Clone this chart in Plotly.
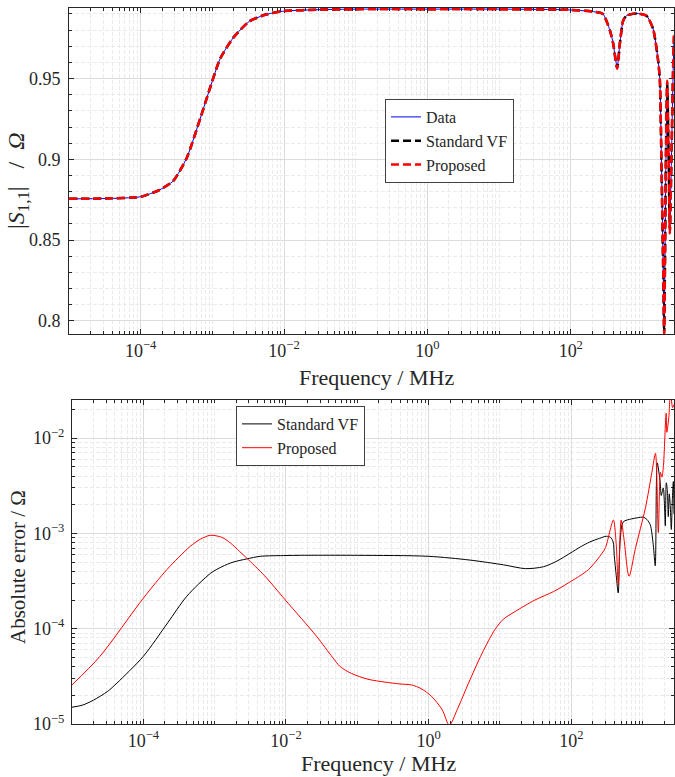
import plotly.graph_objects as go

# ---------------- data ----------------
# Top panel: |S11| versus frequency (MHz)
freq_s11 = [1e-5, 3.2e-5, 1e-4, 1.86e-4, 2.85e-4, 4.4e-4, 6.8e-4, 9.3e-4, 1.29e-3,
            1.95e-3, 3.3e-3, 5.75e-3, 1e-2, 3.2e-2, 0.1, 1, 10, 100, 219, 281, 351,
            390, 444, 484, 538, 600, 828, 1140, 1409, 1656, 1750, 1845, 1945, 2009,
            2118, 2213, 2312, 2410, 2547, 2679, 2754]
s11_data = [0.8755, 0.8757, 0.8768, 0.8812, 0.8866, 0.9010, 0.9255, 0.9443, 0.9625,
            0.9752, 0.9855, 0.9898, 0.9918, 0.9927, 0.9930, 0.9930, 0.9930, 0.9925,
            0.9913, 0.9900, 0.9800, 0.9720, 0.9570, 0.9717, 0.9858, 0.9890, 0.9903,
            0.9889, 0.9807, 0.9610, 0.9487, 0.8950, 0.8330, 0.7925, 0.8950, 0.9460,
            0.9060, 0.8580, 0.9040, 0.9550, 0.9730]
s11_std = [0.8755, 0.8757, 0.8768, 0.8812, 0.8866, 0.9010, 0.9255, 0.9443, 0.9625,
           0.9752, 0.9855, 0.9898, 0.9918, 0.9927, 0.9930, 0.9930, 0.9930, 0.9925,
           0.9913, 0.9900, 0.9800, 0.9718, 0.9565, 0.9717, 0.9858, 0.9890, 0.9903,
           0.9889, 0.9807, 0.9610, 0.9487, 0.8950, 0.8330, 0.7920, 0.8950, 0.9475,
           0.9055, 0.8560, 0.9045, 0.9565, 0.9760]
s11_prop = [0.8755, 0.8757, 0.8768, 0.8812, 0.8866, 0.9010, 0.9255, 0.9443, 0.9625,
            0.9752, 0.9855, 0.9898, 0.9918, 0.9927, 0.9930, 0.9930, 0.9930, 0.9925,
            0.9913, 0.9900, 0.9797, 0.9717, 0.9561, 0.9717, 0.9858, 0.9890, 0.9904,
            0.9889, 0.9807, 0.9610, 0.9487, 0.8950, 0.8330, 0.7920, 0.8950, 0.9487,
            0.9050, 0.8540, 0.9050, 0.9577, 0.9780]

# Bottom panel: absolute error versus frequency (MHz)
freq_err_std = [1e-5, 1.41e-5, 2.0e-5, 3.16e-5, 4.27e-5, 1e-4, 2.19e-4, 4.07e-4, 8.7e-4,
                1.26e-3, 1.82e-3, 2.82e-3, 4.37e-3, 1e-2, 1.58e-2, 0.1, 1, 3.8, 11.2,
                22.9, 40.7, 63.1, 95.5, 135, 182, 251, 309, 355, 387, 400, 427, 455, 485,
                535, 700, 850, 1023, 1150, 1280, 1410, 1503, 1603, 1766, 1824, 1947, 2013,
                2080, 2148, 2218, 2291, 2365, 2445, 2525, 2608, 2694, 2754]
err_std = [1.50e-5, 1.58e-5, 1.78e-5, 2.2e-5, 2.69e-5, 5.13e-5, 1.15e-4, 2.19e-4, 3.80e-4,
           4.47e-4, 5.0e-4, 5.4e-4, 5.75e-4, 5.86e-4, 5.89e-4, 5.89e-4, 5.75e-4, 5.25e-4,
           4.68e-4, 4.27e-4, 4.47e-4, 5.13e-4, 6.17e-4, 7.24e-4, 8.13e-4, 8.9e-4, 9.33e-4,
           9.1e-4, 8.1e-4, 5.9e-4, 3.6e-4, 2.37e-4, 8.5e-4, 1.32e-3, 1.42e-3, 1.46e-3,
           1.48e-3, 1.40e-3, 1.23e-3, 7.6e-4, 4.57e-4, 5.5e-3, 3.4e-3, 2.5e-3, 3.0e-3,
           2.2e-3, 1.2e-3, 3.4e-3, 2.9e-3, 1.5e-3, 2.6e-3, 1.9e-3, 1.1e-3, 2.2e-3, 3.5e-3,
           1.6e-3]

freq_err_prop = [1e-5, 2.45e-5, 1e-4, 2.14e-4, 4.47e-4, 6.31e-4, 8.7e-4, 1.26e-3, 1.66e-3,
                 2.24e-3, 2.82e-3, 5.0e-3, 9.8e-3, 2.69e-2, 4.5e-2, 5.75e-2, 8.3e-2, 0.141,
                 0.245, 0.398, 0.575, 0.794, 1.10, 1.55, 1.95, 2.51, 3.63, 5.6, 8.5, 11.2,
                 16.2, 30.9, 56.2, 91, 174, 269, 302, 389, 427, 455, 500, 550, 645, 794,
                 1096, 1349, 1514, 1660, 1778, 1862, 1950, 2138, 2188, 2344, 2455, 2630,
                 2754]
err_prop = [2.57e-5, 5.1e-5, 2.09e-4, 4.17e-4, 7.24e-4, 8.7e-4, 9.55e-4, 9.1e-4, 7.94e-4,
            6.46e-4, 5.5e-4, 3.6e-4, 2.0e-4, 8.3e-5, 5.0e-5, 4.0e-5, 3.39e-5, 2.95e-5,
            2.75e-5, 2.63e-5, 2.57e-5, 2.34e-5, 1.95e-5, 1.41e-5, 0.97e-5, 1.41e-5,
            2.69e-5, 5.5e-5, 9.8e-5, 1.26e-4, 1.51e-4, 2.0e-4, 2.45e-4, 3.02e-4, 4.17e-4,
            6.17e-4, 7.1e-4, 1.38e-3, 7.6e-4, 2.9e-4, 1.38e-3, 8.5e-4, 3.55e-4, 7.0e-4,
            1.86e-3, 4.37e-3, 6.9e-3, 1.02e-3, 4.37e-3, 3.9e-3, 4.9e-3, 1.82e-2, 1.15e-2,
            1.74e-2, 3.2e-2, 2.09e-2, 2.24e-2]

x_tick_vals = [1e-4, 1e-2, 1, 1e2]
x_tick_text = ["10<sup>−4</sup>", "10<sup>−2</sup>", "10<sup>0</sup>", "10<sup>2</sup>"]
y1_tick_vals = [0.8, 0.85, 0.9, 0.95]
y1_tick_text = ["0.8", "0.85", "0.9", "0.95"]
y2_tick_vals = [1e-5, 1e-4, 1e-3, 1e-2]
y2_tick_text = ["10<sup>−5</sup>", "10<sup>−4</sup>", "10<sup>−3</sup>", "10<sup>−2</sup>"]

# minor tick positions (axis furniture)
x_minor = [k * 10.0 ** n for n in range(-5, 4) for k in range(1, 10)
           if not (k == 1 and n in (-4, -2, 0, 2))]
y2_minor = [k * 10.0 ** n for n in range(-5, -1) for k in range(2, 10)]
y1_minor = [round(0.79 + 0.01 * i, 2) for i in range(21)]

FONT = "Liberation Serif, Times New Roman, DejaVu Serif, serif"
TXT = "#262626"
GRID = "#dcdcdc"
MGRID = "#ebebeb"

fig = go.Figure()

fig.add_trace(go.Scatter(x=freq_s11, y=s11_data, name="Data", mode="lines",
                         line=dict(color="#0000ff", width=1, shape="spline", smoothing=0.6),
                         xaxis="x", yaxis="y", legend="legend"))
fig.add_trace(go.Scatter(x=freq_s11, y=s11_std, name="Standard VF", mode="lines",
                         line=dict(color="#000000", width=2.5, dash="8px,4px",
                                   shape="spline", smoothing=0.6),
                         xaxis="x", yaxis="y", legend="legend"))
fig.add_trace(go.Scatter(x=freq_s11, y=s11_prop, name="Proposed", mode="lines",
                         line=dict(color="#ff0000", width=2.5, dash="8px,4px",
                                   shape="spline", smoothing=0.6),
                         xaxis="x", yaxis="y", legend="legend"))

fig.add_trace(go.Scatter(x=freq_err_std, y=err_std, name="Standard VF", mode="lines",
                         line=dict(color="#000000", width=1, shape="spline", smoothing=0.8),
                         xaxis="x2", yaxis="y2", legend="legend2"))
fig.add_trace(go.Scatter(x=freq_err_prop, y=err_prop, name="Proposed", mode="lines",
                         line=dict(color="#ff0000", width=1, shape="spline", smoothing=0.8),
                         xaxis="x2", yaxis="y2", legend="legend2"))

W, H = 675, 777


def xd(a, b):
    return [a / W, b / W]


def yd(top, bottom):
    return [1 - bottom / H, 1 - top / H]


common_axis = dict(showline=True, linecolor=TXT, linewidth=1, mirror="allticks",
                   ticks="inside", ticklen=5, tickcolor=TXT, showgrid=True,
                   gridcolor=GRID, gridwidth=1, zeroline=False, layer="below traces",
                   tickfont=dict(family=FONT, size=18, color=TXT), automargin=False)

minor_common = dict(ticks="inside", ticklen=3, tickcolor=TXT, showgrid=True,
                    gridcolor=MGRID, griddash="4px,2px", gridwidth=1)

fig.update_layout(
    width=W, height=H,
    margin=dict(l=0, r=0, t=0, b=0),
    paper_bgcolor="white", plot_bgcolor="white",
    font=dict(family=FONT, color=TXT),
    xaxis=dict(type="log", domain=xd(69, 674), range=[-5, 3.44], anchor="y",
               tickmode="array", tickvals=x_tick_vals, ticktext=x_tick_text,
               minor=dict(tickmode="array", tickvals=x_minor, **minor_common),
               **common_axis),
    yaxis=dict(domain=yd(8, 334), range=[0.7918, 0.9937], anchor="x",
               tickmode="array", tickvals=y1_tick_vals, ticktext=y1_tick_text,
               minor=dict(tickmode="array", tickvals=y1_minor, **minor_common),
               ticklabelstandoff=4, **common_axis),
    xaxis2=dict(type="log", domain=xd(72, 674), range=[-5, 3.44], anchor="y2",
                tickmode="array", tickvals=x_tick_vals, ticktext=x_tick_text,
                minor=dict(tickmode="array", tickvals=x_minor, **minor_common),
                **common_axis),
    yaxis2=dict(type="log", domain=yd(400, 724), range=[-5, -1.6], anchor="x2",
                tickmode="array", tickvals=y2_tick_vals, ticktext=y2_tick_text,
                minor=dict(tickmode="array", tickvals=y2_minor, **minor_common),
                ticklabelstandoff=3, **common_axis),
    legend=dict(x=385 / W, y=1 - 99 / H, xanchor="left", yanchor="top",
                bgcolor="white", bordercolor="#404040", borderwidth=1,
                font=dict(family=FONT, size=16, color=TXT), tracegroupgap=0,
                itemwidth=30),
    legend2=dict(x=236 / W, y=1 - 406 / H, xanchor="left", yanchor="top",
                 bgcolor="white", bordercolor="#404040", borderwidth=1,
                 font=dict(family=FONT, size=16, color=TXT), tracegroupgap=0,
                 itemwidth=30),
    showlegend=True,
)

NB = "\u00a0"
fig.add_annotation(text="Frequency / MHz", x=376 / W, y=1 - 377 / H, xref="paper",
                   yref="paper", showarrow=False, xanchor="center", yanchor="middle",
                   font=dict(family=FONT, size=22, color=TXT))
fig.add_annotation(text="Frequency / MHz", x=378 / W, y=1 - 763 / H, xref="paper",
                   yref="paper", showarrow=False, xanchor="center", yanchor="middle",
                   font=dict(family=FONT, size=22, color=TXT))
fig.add_annotation(text="|<i>S</i><sub>1,1</sub>|" + NB * 3 + "/" + NB * 2 + "<i>Ω</i>",
                   x=18 / W, y=1 - 181 / H,
                   xref="paper", yref="paper", showarrow=False, textangle=-90,
                   xanchor="center", yanchor="middle",
                   font=dict(family=FONT, size=24, color=TXT))
fig.add_annotation(text="Absolute error / Ω", x=18 / W, y=1 - 567 / H,
                   xref="paper", yref="paper", showarrow=False, textangle=-90,
                   xanchor="center", yanchor="middle",
                   font=dict(family=FONT, size=21, color=TXT))

fig.write_html("out.html",
               config={"displayModeBar": False},
               post_script="document.body.style.margin='0';"
                           "document.body.style.overflow='hidden';")
